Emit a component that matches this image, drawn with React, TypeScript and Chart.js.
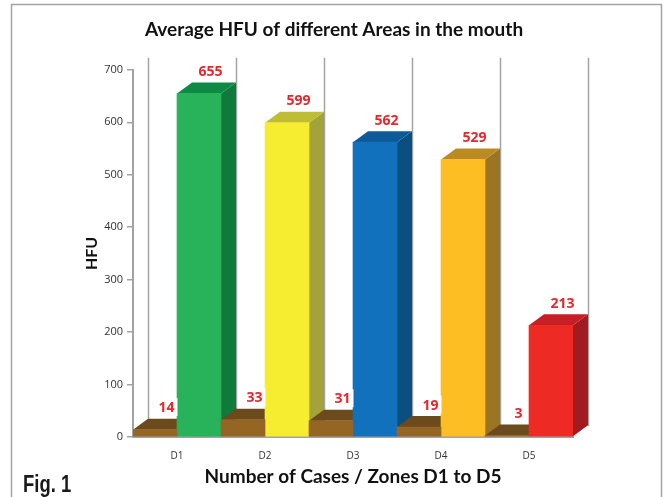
import { useEffect, useRef } from 'react';
import { Chart, registerables } from 'chart.js';

Chart.register(...registerables);

// ---------- data ----------
const categories = ['D1', 'D2', 'D3', 'D4', 'D5'];
const caseValues = [14, 33, 31, 19, 3];
const hfuValues = [655, 599, 562, 529, 213];
const yMin = 0;
const yMax = 700;
const yStep = 100;
const chartTitle = 'Average HFU of different Areas in the mouth';
const xAxisTitle = 'Number of Cases / Zones D1 to D5';
const yAxisTitle = 'HFU';
const figureLabel = 'Fig. 1';

// ---------- styles ----------
const brownFace = { front: '#956524', top: '#6b4a1b', side: '#5a3d14' };
const hfuFaces = [
  { front: '#28b35b', top: '#0f8a44', side: '#107a3c' },
  { front: '#f6ec30', top: '#bfbe33', side: '#a4a33a' },
  { front: '#1271bd', top: '#0e5a98', side: '#0b4e80' },
  { front: '#fcbe23', top: '#bb8a22', side: '#9b7424' },
  { front: '#ee2a24', top: '#c81f26', side: '#a21b21' },
];
const DEPTH_X = 15;
const DEPTH_Y = 11;
const LABEL_RED = '#e8262b';
const GRAY = '#a3a3a3';

const threeDPlugin = {
  id: 'threeD',
  beforeDraw(chart: any) {
    const ctx = chart.ctx;
    ctx.save();
    ctx.fillStyle = '#ffffff';
    ctx.fillRect(0, 0, chart.width, chart.height);
    ctx.strokeStyle = GRAY;
    ctx.lineWidth = 1.5;
    ctx.strokeRect(11.5, 4.5, 650, 600);
    ctx.restore();
  },
  beforeDatasetsDraw(chart: any) {
    const ctx = chart.ctx;
    const { left, right, top, bottom } = chart.chartArea;
    const n = categories.length;
    ctx.save();
    // back wall vertical lines
    ctx.strokeStyle = GRAY;
    ctx.lineWidth = 1.5;
    for (let i = 0; i <= n; i++) {
      const bx = Math.round(left + (i * (right - left)) / n + DEPTH_X) + 0.5;
      ctx.beginPath();
      ctx.moveTo(bx, top - DEPTH_Y - 1);
      ctx.lineTo(bx, bottom - DEPTH_Y);
      ctx.stroke();
    }
    // side and top faces, painted left to right
    const items: any[] = [];
    [0, 1].forEach((di) => {
      const meta = chart.getDatasetMeta(di);
      meta.data.forEach((el: any, i: number) => {
        const p = el.getProps(['x', 'y', 'base', 'width'], true);
        const faces = di === 0 ? brownFace : hfuFaces[i];
        items.push({ L: p.x - p.width / 2, R: p.x + p.width / 2, y: p.y, base: p.base, faces });
      });
    });
    items.sort((a, b) => a.L - b.L);
    for (const it of items) {
      const { L, R, y, base, faces } = it;
      ctx.fillStyle = faces.side;
      ctx.beginPath();
      ctx.moveTo(R, y);
      ctx.lineTo(R + DEPTH_X, y - DEPTH_Y);
      ctx.lineTo(R + DEPTH_X, base - DEPTH_Y);
      ctx.lineTo(R, base);
      ctx.closePath();
      ctx.fill();
      ctx.fillStyle = faces.top;
      ctx.beginPath();
      ctx.moveTo(L, y);
      ctx.lineTo(L + DEPTH_X, y - DEPTH_Y);
      ctx.lineTo(R + DEPTH_X, y - DEPTH_Y);
      ctx.lineTo(R, y);
      ctx.closePath();
      ctx.fill();
    }
    ctx.restore();
  },
  afterDatasetsDraw(chart: any) {
    const ctx = chart.ctx;
    ctx.save();
    ctx.font = 'bold 14px "Open Sans"';
    ctx.textAlign = 'center';
    ctx.textBaseline = 'middle';
    [0, 1].forEach((di) => {
      const meta = chart.getDatasetMeta(di);
      const values = chart.data.datasets[di].data;
      meta.data.forEach((el: any, i: number) => {
        const p = el.getProps(['x', 'y'], true);
        const text = String(values[i]);
        const cx = p.x + DEPTH_X / 2 + 4;
        const cy = p.y - DEPTH_Y / 2 - 17;
        const w = ctx.measureText(text).width + 6;
        ctx.fillStyle = '#ffffff';
        ctx.fillRect(cx - w / 2, cy - 9, w, 18);
        ctx.fillStyle = LABEL_RED;
        ctx.fillText(text, cx, cy + 1);
      });
    });
    ctx.restore();
  },
  afterDraw(chart: any) {
    const ctx = chart.ctx;
    ctx.save();
    ctx.font = 'bold 24px "Liberation Sans", Arial, sans-serif';
    ctx.fillStyle = '#1a1a1a';
    ctx.textAlign = 'left';
    ctx.textBaseline = 'alphabetic';
    ctx.translate(23, 492);
    ctx.scale(0.77, 1);
    ctx.fillText(figureLabel, 0, 0);
    ctx.restore();
  },
};

export default function App() {
  const ref = useRef<HTMLCanvasElement>(null);
  useEffect(() => {
    const chart = new Chart(ref.current as HTMLCanvasElement, {
      type: 'bar',
      data: {
        labels: categories,
        datasets: [
          {
            label: 'Cases',
            data: caseValues,
            backgroundColor: brownFace.front,
            borderWidth: 0,
            categoryPercentage: 1,
            barPercentage: 1,
          },
          {
            label: 'HFU',
            data: hfuValues,
            backgroundColor: hfuFaces.map((f) => f.front),
            borderWidth: 0,
            categoryPercentage: 1,
            barPercentage: 1,
          },
        ],
      },
      options: {
        responsive: false,
        animation: false,
        devicePixelRatio: 1,
        layout: { padding: { left: 76, right: 75, top: 0, bottom: 5 } },
        plugins: {
          legend: { display: false },
          tooltip: { enabled: false },
          title: {
            display: true,
            text: chartTitle,
            color: '#111111',
            font: { family: 'Lato', size: 19, weight: 'bold' },
            padding: { top: 18, bottom: 29 },
          },
        },
        scales: {
          x: {
            grid: { display: false },
            border: { display: true, color: GRAY, width: 2 },
            ticks: { color: '#333333', font: { family: 'Open Sans', size: 10 }, padding: 5 },
            title: {
              display: true,
              text: xAxisTitle,
              color: '#111111',
              font: { family: 'Lato', size: 19, weight: 'bold' },
            },
            afterFit: (s: any) => {
              s.height = 55;
            },
          },
          y: {
            min: yMin,
            max: yMax,
            grid: { display: true, drawOnChartArea: false, drawTicks: true, tickLength: 6, color: GRAY, lineWidth: 1.5 },
            border: { display: true, color: GRAY, width: 2 },
            ticks: { stepSize: yStep, color: '#333333', font: { family: 'Open Sans', size: 11 }, padding: 4 },
            title: {
              display: true,
              text: yAxisTitle,
              color: '#111111',
              font: { family: 'Lato', size: 16, weight: 'bold' },
              padding: { top: 6, bottom: 0 },
            },
            afterFit: (s: any) => {
              s.width = 57;
            },
          },
          depthSpace: {
            type: 'linear',
            position: 'right',
            display: true,
            grid: { display: false },
            border: { display: false },
            ticks: { display: false },
            afterFit: (s: any) => {
              s.width = 19;
            },
          },
        },
      },
      plugins: [threeDPlugin],
    });
    return () => chart.destroy();
  }, []);
  return (
    <div style={{ position: 'absolute', left: 0, top: 0, width: 667, height: 497, background: '#ffffff' }}>
      <canvas ref={ref} width={667} height={497} style={{ display: 'block' }} />
    </div>
  );
}
